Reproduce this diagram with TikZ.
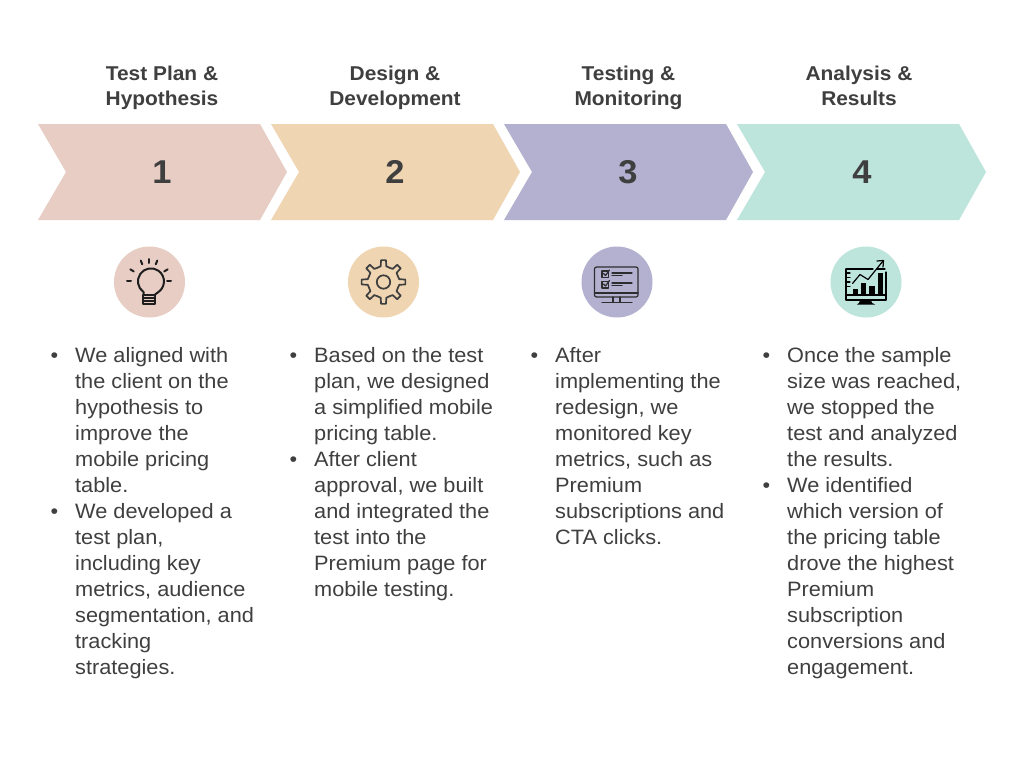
\documentclass[tikz,border=0pt]{standalone}
\usepackage{fontspec}
\setmainfont{Liberation Sans}[FakeStretch=1.045]
\definecolor{cPink}{HTML}{E8CDC4}
\definecolor{cTan}{HTML}{EFD5B2}
\definecolor{cLav}{HTML}{B3B1CF}
\definecolor{cMint}{HTML}{BDE5DC}
\definecolor{ink}{HTML}{3F3F3F}
\definecolor{icon}{HTML}{1E1E1E}
\newcommand{\bul}{\llap{\textbullet\hspace{17pt}}}
\newcommand{\tp}{\rule{0pt}{16pt}}
\newcommand{\bt}{\rule[-5pt]{0pt}{5pt}}
\tikzset{
  x=1pt,y=-1pt,
  head/.style={align=center,text=ink,font=\fontsize{20}{25}\selectfont\bfseries,anchor=center,inner sep=0pt},
  num/.style={text=ink,font=\fontsize{33}{33}\selectfont\bfseries,anchor=center,inner sep=0pt},
  body/.style={align=left,text=ink,font=\fontsize{20.8}{26}\selectfont,anchor=north west,inner sep=0pt},
  disc/.style={circle,minimum size=71pt,inner sep=0pt},
  ic/.style={draw=icon,line width=2pt,line cap=round,line join=round}
}
\begin{document}
\begin{tikzpicture}
\useasboundingbox (0,0) rectangle (1024,768);
\fill[white] (0,0) rectangle (1024,768);
% chevrons
\fill[cPink] (38,124) -- (260,124) -- (287,172) -- (260,220) -- (38,220) -- (66,172) -- cycle;
\fill[cTan]  (271,124) -- (493,124) -- (520,172) -- (493,220) -- (271,220) -- (299,172) -- cycle;
\fill[cLav]  (504,124) -- (726,124) -- (753,172) -- (726,220) -- (504,220) -- (532,172) -- cycle;
\fill[cMint] (737,124) -- (959,124) -- (986,172) -- (959,220) -- (737,220) -- (765,172) -- cycle;
% headings
\node[head] (h1) at (162,87.5) {\tp Test Plan \&\\Hypothesis\bt};
\node[head] (h2) at (395,87.5) {\tp Design \&\\Development\bt};
\node[head] (h3) at (628.5,87.5) {\tp Testing \&\\Monitoring\bt};
\node[head] (h4) at (859,87.5) {\tp Analysis \&\\Results\bt};
% numbers
\node[num] (n1) at (162,172) {1};
\node[num] (n2) at (395,172) {2};
\node[num] (n3) at (628,172) {3};
\node[num] (n4) at (862,172) {4};
% discs
\node[disc,fill=cPink] (d1) at (149.5,282) {};
\node[disc,fill=cTan]  (d2) at (383.5,282) {};
\node[disc,fill=cLav]  (d3) at (617,282) {};
\node[disc,fill=cMint] (d4) at (866,282) {};
% bulb
\begin{scope}[shift={(149,281)}]
  \draw[ic] (-5.5,14) -- (-5.5,11) arc[start angle=125,end angle=415,radius=13] -- (5.5,14);
  \draw[ic] (-6,14) rectangle (6,23);
  \draw[ic,line width=1.3pt] (-6,17) -- (6,17) (-6,20) -- (6,20);
  \foreach \a in {180,212,248,270,292,328,360}
    \draw[ic] (\a:18) -- (\a:22);
\end{scope}
% gear
\begin{scope}[shift={(383.5,282)}]
  \draw[ic,draw=ink,line width=1.7pt] (0,0) circle[radius=6.7];
  \foreach \a in {0,45,...,315}{
    \draw[ic,draw=ink,line width=1.7pt] (\a-22.5:15.5) -- (\a-10:16) -- (\a-6.5:22) -- (\a+6.5:22) -- (\a+10:16) -- (\a+22.5:15.5);
  }
\end{scope}
% monitor checklist
\begin{scope}[ic,line width=1.2pt,draw=icon!90!cLav]
  \draw[rounded corners=2pt] (594.5,267) rectangle (638,297);
  \draw (594.5,293) -- (638,293);
  \draw (613,297) -- (613,302) (620,297) -- (620,302) (602,302.5) -- (632,302.5);
  \draw (602,271) rectangle (608.5,277.5);
  \draw (602,281.5) rectangle (608.5,288);
  \draw (603.5,273.5) -- (605.5,275.5) -- (609.5,270);
  \draw (603.5,284) -- (605.5,286) -- (609.5,280.5);
  \draw (612,273) -- (632,273) (612,275.5) -- (622,275.5);
  \draw (612,283) -- (632,283) (612,285.5) -- (622,285.5);
\end{scope}
% monitor chart
\begin{scope}[ic,draw=black,line width=1.2pt]
  \draw (846,269) -- (846,300) -- (886,300) -- (886,272);
  \draw (846,269) -- (873,269);
  \draw (877,269) -- (885,269);
  \fill[black] (853,289) rectangle (858,295);
  \fill[black] (861,283) rectangle (866,295);
  \fill[black] (869,285.5) rectangle (874.5,295);
  \fill[black] (878,273) rectangle (883,295);
  \draw (846,295) -- (886,295);
  \draw (846,273) -- (850,273) (846,277.5) -- (850,277.5) (846,282) -- (850,282) (846,286.5) -- (850,286.5);
  \draw (852.5,283.5) -- (860,274.5) -- (868,279.5) -- (883,261);
  \draw (877,261) -- (883.5,260.5) -- (883,267);
  \fill[black] (860,300) -- (871,300) -- (872,303) -- (875,304.5) -- (857,304.5) -- (859,303) -- cycle;
\end{scope}
% body text
\node[body] (t1) at (75,347) {\bul We aligned with\\the client on the\\hypothesis to\\improve the\\mobile pricing\\table.\\\bul We developed a\\test plan,\\including key\\metrics, audience\\segmentation, and\\tracking\\strategies.};
\node[body] (t2) at (314,347) {\bul Based on the test\\plan, we designed\\a simplified mobile\\pricing table.\\\bul After client\\approval, we built\\and integrated the\\test into the\\Premium page for\\mobile testing.};
\node[body] (t3) at (555,347) {\bul After\\implementing the\\redesign, we\\monitored key\\metrics, such as\\Premium\\subscriptions and\\CTA clicks.};
\node[body] (t4) at (787,347) {\bul Once the sample\\size was reached,\\we stopped the\\test and analyzed\\the results.\\\bul We identified\\which version of\\the pricing table\\drove the highest\\Premium\\subscription\\conversions and\\engagement.};
\end{tikzpicture}
\end{document}
